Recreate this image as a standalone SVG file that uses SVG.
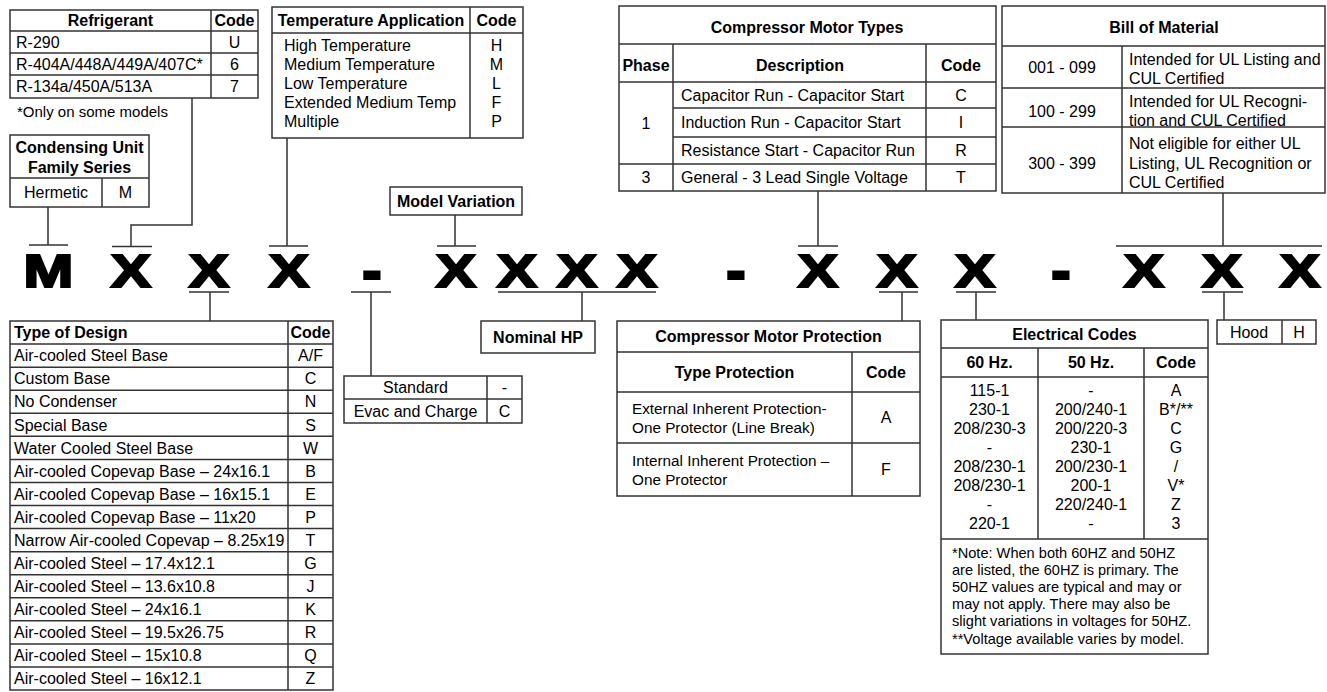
<svg xmlns="http://www.w3.org/2000/svg" width="1327" height="692" viewBox="0 0 1327 692">
<style>
text{font-family:"Liberation Sans",Arial,sans-serif;font-size:16px;fill:#000}
.b{font-weight:bold}
.c{text-anchor:middle}
.s15{font-size:15px}
.s153{font-size:15.3px}
.s146{font-size:14.6px}
.box{fill:#fff;stroke:#333;stroke-width:1.5}
.ln{stroke:#333;stroke-width:1.5;fill:none}
.big{font-weight:bold;font-size:46px;stroke:#000;stroke-width:2.2;text-anchor:middle}
.dash{font-weight:bold;font-size:46px;stroke:#000;stroke-width:4;text-anchor:middle}
</style>
<rect width="1327" height="692" fill="#fff"/>

<g id="refrigerant">
<rect class="box" x="10" y="10" width="248" height="88"/>
<path class="ln" d="M10 31H258M10 53H258M10 75H258M211 10V98"/>
<text class="b c" x="110.5" y="26">Refrigerant</text>
<text class="b c" x="234.5" y="26">Code</text>
<text x="16" y="47.7">R-290</text>
<text x="16" y="69.7">R-404A/448A/449A/407C*</text>
<text x="16" y="92">R-134a/450A/513A</text>
<text class="c" x="234.5" y="47.7">U</text>
<text class="c" x="234.5" y="69.7">6</text>
<text class="c" x="234.5" y="92">7</text>
<text class="s15" x="17" y="117">*Only on some models</text>
</g>

<g id="family-series">
<rect class="box" x="10" y="135" width="139" height="72"/>
<path class="ln" d="M10 178H149M102 178V207"/>
<text class="b c" x="79.5" y="152.5">Condensing Unit</text>
<text class="b c" x="79.5" y="172.5">Family Series</text>
<text class="c" x="56" y="197.5">Hermetic</text>
<text class="c" x="125.5" y="197.5">M</text>
</g>

<g id="temperature-application">
<rect class="box" x="272" y="7" width="251" height="131"/>
<path class="ln" d="M272 33H523M470 7V138"/>
<text class="b c" x="371" y="26">Temperature Application</text>
<text class="b c" x="496.5" y="26">Code</text>
<text x="284" y="51">High Temperature</text>
<text x="284" y="70">Medium Temperature</text>
<text x="284" y="89">Low Temperature</text>
<text x="284" y="108">Extended Medium Temp</text>
<text x="284" y="127">Multiple</text>
<text class="c" x="496.5" y="51">H</text>
<text class="c" x="496.5" y="70">M</text>
<text class="c" x="496.5" y="89">L</text>
<text class="c" x="496.5" y="108">F</text>
<text class="c" x="496.5" y="127">P</text>
</g>

<g id="model-variation">
<rect class="box" x="390" y="187" width="132" height="28"/>
<text class="b c" x="456" y="206.5">Model Variation</text>
</g>

<g id="compressor-motor-types">
<rect class="box" x="619" y="6" width="377" height="185"/>
<path class="ln" d="M619 44H996M619 82H996M673 108H996M673 137H996M619 164H996M673 44V191M926 44V191"/>
<text class="b c" x="807" y="32.5">Compressor Motor Types</text>
<text class="b c" x="646" y="70.5">Phase</text>
<text class="b c" x="800" y="70.5">Description</text>
<text class="b c" x="961" y="70.5">Code</text>
<text class="c" x="646" y="128.5">1</text>
<text class="c" x="646" y="183.2">3</text>
<text x="681" y="100.7">Capacitor Run - Capacitor Start</text>
<text x="681" y="128.2">Induction Run - Capacitor Start</text>
<text x="681" y="156.2">Resistance Start - Capacitor Run</text>
<text x="681" y="183.2">General - 3 Lead Single Voltage</text>
<text class="c" x="961" y="100.7">C</text>
<text class="c" x="961" y="128.2">I</text>
<text class="c" x="961" y="156.2">R</text>
<text class="c" x="961" y="183.2">T</text>
</g>

<g id="bill-of-material">
<rect class="box" x="1002" y="6" width="323" height="187"/>
<path class="ln" d="M1002 46H1325M1002 88H1325M1002 127H1325M1122 46V193"/>
<text class="b c" x="1164" y="32.5">Bill of Material</text>
<text class="c" x="1062" y="73">001 - 099</text>
<text class="c" x="1062" y="116.5">100 - 299</text>
<text class="c" x="1062" y="168.5">300 - 399</text>
<text x="1129" y="65">Intended for UL Listing and</text>
<text x="1129" y="83.5">CUL Certified</text>
<text x="1129" y="106.5">Intended for UL Recogni-</text>
<text x="1129" y="125.5">tion and CUL Certified</text>
<text x="1129" y="149">Not eligible for either UL</text>
<text x="1129" y="169">Listing, UL Recognition or</text>
<text x="1129" y="187.5">CUL Certified</text>
</g>

<g id="code-letters">
<text class="big" transform="translate(48.5 286.5) scale(1.3 1)">M</text>
<text class="big" transform="translate(131 286.5) scale(1.3 1)">X</text>
<text class="big" transform="translate(209 286.5) scale(1.3 1)">X</text>
<text class="big" transform="translate(289 286.5) scale(1.3 1)">X</text>
<text class="dash" transform="translate(372 286.5) scale(1.1 1)">-</text>
<text class="big" transform="translate(456 286.5) scale(1.3 1)">X</text>
<text class="big" transform="translate(517 286.5) scale(1.3 1)">X</text>
<text class="big" transform="translate(577 286.5) scale(1.3 1)">X</text>
<text class="big" transform="translate(637 286.5) scale(1.3 1)">X</text>
<text class="dash" transform="translate(736 286.5) scale(1.1 1)">-</text>
<text class="big" transform="translate(818 286.5) scale(1.3 1)">X</text>
<text class="big" transform="translate(897 286.5) scale(1.3 1)">X</text>
<text class="big" transform="translate(975 286.5) scale(1.3 1)">X</text>
<text class="dash" transform="translate(1061 286.5) scale(1.1 1)">-</text>
<text class="big" transform="translate(1144 286.5) scale(1.3 1)">X</text>
<text class="big" transform="translate(1222 286.5) scale(1.3 1)">X</text>
<text class="big" transform="translate(1300 286.5) scale(1.3 1)">X</text>
</g>

<g id="type-of-design">
<rect class="box" x="10" y="321" width="323" height="369"/>
<path class="ln" d="M10 344.06H333M10 367.13H333M10 390.19H333M10 413.25H333M10 436.31H333M10 459.38H333M10 482.44H333M10 505.5H333M10 528.56H333M10 551.63H333M10 574.69H333M10 597.75H333M10 620.81H333M10 643.88H333M10 666.94H333M288 321V690"/>
<text class="b" x="14" y="338.2">Type of Design</text>
<text class="b c" x="310.5" y="338.2">Code</text>
<text x="14" y="361.3">Air-cooled Steel Base</text>
<text x="14" y="384.3">Custom Base</text>
<text x="14" y="407.4">No Condenser</text>
<text x="14" y="430.5">Special Base</text>
<text x="14" y="453.5">Water Cooled Steel Base</text>
<text x="14" y="476.6">Air-cooled Copevap Base – 24x16.1</text>
<text x="14" y="499.6">Air-cooled Copevap Base – 16x15.1</text>
<text x="14" y="522.7">Air-cooled Copevap Base – 11x20</text>
<text x="14" y="545.8">Narrow Air-cooled Copevap – 8.25x19</text>
<text x="14" y="568.8">Air-cooled Steel – 17.4x12.1</text>
<text x="14" y="591.9">Air-cooled Steel – 13.6x10.8</text>
<text x="14" y="614.9">Air-cooled Steel – 24x16.1</text>
<text x="14" y="638">Air-cooled Steel – 19.5x26.75</text>
<text x="14" y="661.1">Air-cooled Steel – 15x10.8</text>
<text x="14" y="684.1">Air-cooled Steel – 16x12.1</text>
<text class="c" x="310.5" y="361.3">A/F</text>
<text class="c" x="310.5" y="384.3">C</text>
<text class="c" x="310.5" y="407.4">N</text>
<text class="c" x="310.5" y="430.5">S</text>
<text class="c" x="310.5" y="453.5">W</text>
<text class="c" x="310.5" y="476.6">B</text>
<text class="c" x="310.5" y="499.6">E</text>
<text class="c" x="310.5" y="522.7">P</text>
<text class="c" x="310.5" y="545.8">T</text>
<text class="c" x="310.5" y="568.8">G</text>
<text class="c" x="310.5" y="591.9">J</text>
<text class="c" x="310.5" y="614.9">K</text>
<text class="c" x="310.5" y="638">R</text>
<text class="c" x="310.5" y="661.1">Q</text>
<text class="c" x="310.5" y="684.1">Z</text>
</g>

<g id="evac-charge">
<rect class="box" x="344" y="376" width="178" height="47"/>
<path class="ln" d="M344 399H522M487 376V423"/>
<text class="c" x="415.5" y="393.2">Standard</text>
<text class="c" x="504.5" y="393.2">-</text>
<text class="c" x="415.5" y="416.7">Evac and Charge</text>
<text class="c" x="504.5" y="416.7">C</text>
</g>

<g id="nominal-hp">
<rect class="box" x="481" y="321" width="114" height="32"/>
<text class="b c" x="538" y="342.7">Nominal HP</text>
</g>

<g id="compressor-motor-protection">
<rect class="box" x="617" y="321" width="303" height="175"/>
<path class="ln" d="M617 352H920M617 392H920M617 443H920M852 352V496"/>
<text class="b c" x="768.5" y="342">Compressor Motor Protection</text>
<text class="b c" x="734.5" y="377.7">Type Protection</text>
<text class="b c" x="886" y="377.7">Code</text>
<text class="s153" x="632" y="413.7">External Inherent Protection-</text>
<text class="s153" x="632" y="432.7">One Protector (Line Break)</text>
<text class="s153" x="632" y="465.7">Internal Inherent Protection –</text>
<text class="s153" x="632" y="484.7">One Protector</text>
<text class="c" x="886" y="423">A</text>
<text class="c" x="886" y="475">F</text>
</g>

<g id="electrical-codes">
<rect class="box" x="941" y="320" width="267" height="334"/>
<path class="ln" d="M941 348H1208M941 377H1208M941 539H1208M1038 348V539M1144 348V539"/>
<text class="b c" x="1074.5" y="339.7">Electrical Codes</text>
<text class="b c" x="989.5" y="368">60 Hz.</text>
<text class="b c" x="1091" y="368">50 Hz.</text>
<text class="b c" x="1176" y="368">Code</text>
<text class="c" x="989.5" y="395.5">115-1</text>
<text class="c" x="989.5" y="414.5">230-1</text>
<text class="c" x="989.5" y="433.5">208/230-3</text>
<text class="c" x="989.5" y="452.5">-</text>
<text class="c" x="989.5" y="471.5">208/230-1</text>
<text class="c" x="989.5" y="490.5">208/230-1</text>
<text class="c" x="989.5" y="509.5">-</text>
<text class="c" x="989.5" y="528.5">220-1</text>
<text class="c" x="1091" y="395.5">-</text>
<text class="c" x="1091" y="414.5">200/240-1</text>
<text class="c" x="1091" y="433.5">200/220-3</text>
<text class="c" x="1091" y="452.5">230-1</text>
<text class="c" x="1091" y="471.5">200/230-1</text>
<text class="c" x="1091" y="490.5">200-1</text>
<text class="c" x="1091" y="509.5">220/240-1</text>
<text class="c" x="1091" y="528.5">-</text>
<text class="c" x="1176" y="395.5">A</text>
<text class="c" x="1176" y="414.5">B*/**</text>
<text class="c" x="1176" y="433.5">C</text>
<text class="c" x="1176" y="452.5">G</text>
<text class="c" x="1176" y="471.5">/</text>
<text class="c" x="1176" y="490.5">V*</text>
<text class="c" x="1176" y="509.5">Z</text>
<text class="c" x="1176" y="528.5">3</text>
<text class="s146" x="952" y="557.5">*Note: When both 60HZ and 50HZ</text>
<text class="s146" x="952" y="574.7">are listed, the 60HZ is primary. The</text>
<text class="s146" x="952" y="591.9">50HZ values are typical and may or</text>
<text class="s146" x="952" y="609.1">may not apply. There may also be</text>
<text class="s146" x="952" y="626.3">slight variations in voltages for 50HZ.</text>
<text class="s146" x="952" y="643.5">**Voltage available varies by model.</text>
</g>

<g id="hood">
<rect class="box" x="1217" y="320" width="99" height="24"/>
<path class="ln" d="M1282 320V344"/>
<text class="c" x="1249" y="337.7">Hood</text>
<text class="c" x="1299" y="337.7">H</text>
</g>

<g id="connectors" class="ln">
<path d="M48 207V245M29 245H68"/>
<path d="M192 98V225H131V246.5M112 246.5H152"/>
<path d="M287 138V246M269 246H308"/>
<path d="M455 215V246M437 246H476"/>
<path d="M818 191V246M798 246H838"/>
<path d="M1223 193V246M1116 246H1322"/>
<path d="M189 292H229M210 292V321"/>
<path d="M351 292H391M371 292V376"/>
<path d="M498 292H656M582 292V321"/>
<path d="M879 292H918M902 292V321"/>
<path d="M956 292H996M976 292V320"/>
<path d="M1202 292H1243M1224 292V320"/>
</g>
</svg>
